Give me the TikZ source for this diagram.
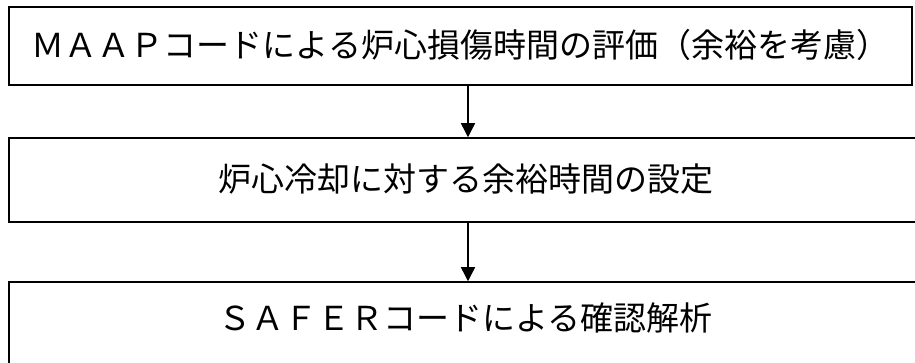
\documentclass[tikz,border=0pt]{standalone}
\usepackage{fontspec}
\newfontfamily\jpfont{Noto Sans CJK JP}
\usetikzlibrary{arrows.meta}
\tikzset{
  stagebox/.style={draw, line width=1.5pt, inner sep=0pt,
    font=\jpfont\fontsize{33}{40}\selectfont, text height=28pt, text depth=5pt},
  flowarrow/.style={line width=1.5pt, -{Triangle[length=14pt,width=14pt]}},
}
\begin{document}
\begin{tikzpicture}[x=1pt, y=-1pt]
\useasboundingbox (0,0) rectangle (915,363);

% ---- stages ----
\node[stagebox, minimum width=903pt, minimum height=78pt] (maap) at (460.5,46)
    {ＭＡＡＰコードによる炉心損傷時間の評価（余裕を考慮）};
\node[stagebox, minimum width=913pt, minimum height=84pt] (margin) at (465.5,180)
    {炉心冷却に対する余裕時間の設定};
\node[stagebox, minimum width=913pt, minimum height=84pt, text depth=15pt] (safer) at (465.5,324)
    {ＳＡＦＥＲコードによる確認解析};

% ---- arrows ----
\coordinate (axis) at (468,0);
\draw[flowarrow] (maap.south -| axis) -- (margin.north -| axis);
\draw[flowarrow] (margin.south -| axis) -- (safer.north -| axis);

\end{tikzpicture}
\end{document}
